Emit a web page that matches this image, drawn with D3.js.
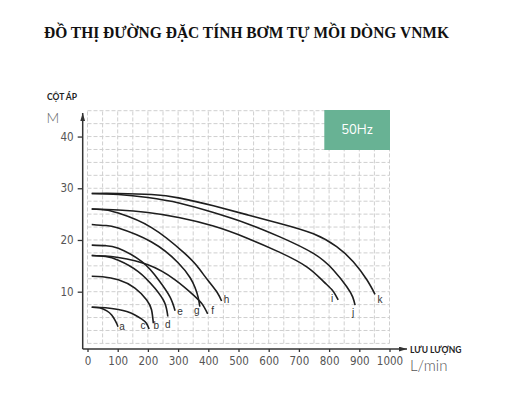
<!DOCTYPE html>
<html><head><meta charset="utf-8">
<script src="https://cdn.jsdelivr.net/npm/d3@7"></script>
<style>body{margin:0;background:#fff}svg{display:block}</style>
</head><body>
<svg id="c" width="505" height="400"></svg>
<script>
// ---- data ----
const curveNames = ["a","b","c","d","e","f","g","h","i","j","k"];
const curveA = [[14,7],[40,6.9],[64,6.3],[80,5.5],[90,4.6],[97,3.8],[101,3.2]];
const curveB = [[14,13],[50,12.9],[102,12.3],[157,10.7],[196,8.4],[212,6.5],[218,3.9]];
const curveC = [[14,7],[60,6.9],[102,6.55],[130,6.15],[157,5.5],[180,4.7],[195,3.9],[204,2.8]];
const curveD = [[14,17],[60,16.8],[102,16.1],[168,13.9],[224,10.6],[256,7.8],[266,5.2]];
const curveE = [[14,19],[60,18.9],[102,18.4],[180,15.8],[235,12.3],[273,9.0],[290,6.3]];
const curveF = [[14,17],[60,16.9],[102,16.6],[200,15.2],[290,12.3],[350,9.4],[380,7.6],[398,5.7]];
const curveG = [[14,23],[60,22.8],[102,22.3],[212,19.6],[300,15.6],[340,12.7],[356,10.8],[366,9.0],[372,7.1]];
const curveH = [[14,26],[60,25.8],[102,25.2],[212,22.4],[320,17.5],[362,15.0],[400,12.1],[430,9.8],[444,8.2]];
const curveI = [[14,26],[102,25.8],[200,25.3],[306,24.3],[417,22.7],[527,20.4],[637,17.6],[726,14.8],[781,12.0],[812,10.2],[830,8.4]];
const curveJ = [[14,29],[102,28.8],[200,28.2],[306,27.1],[417,25.3],[527,23.2],[637,20.6],[748,17.4],[814,14.2],[858,11.0],[878,9.0],[886,7.4]];
const curveK = [[14,29],[102,29],[212,28.8],[306,28.1],[417,26.6],[527,24.9],[637,23.2],[748,21.2],[825,18.7],[880,15.8],[925,12.3],[952,9.5]];
const curveData = [curveA,curveB,curveC,curveD,curveE,curveF,curveG,curveH,curveI,curveJ,curveK];
const xTicks = [0,100,200,300,400,500,600,700,800,900,1000];
const yTicks = [10,20,30,40];
const titleText = "ĐỒ THỊ ĐƯỜNG ĐẶC TÍNH BƠM TỰ MỒI DÒNG VNMK";
const yTitle = "CỘT ÁP", yUnit = "M", xTitle = "LƯU LƯỢNG", xUnit = "L/min", badge = "50Hz";

// ---- layout ----
const labelOffsets = {a:[4,0],b:[3,2],c:[-6,-3],d:[0,8],e:[5,1],f:[5,-3],g:[-3,4],h:[5,-1],i:[-6,-1],j:[-2,7],k:[5,5]};
const svg = d3.select("#c");
const x = d3.scaleLinear().domain([0,1000]).range([87.5,389.5]);
const y = d3.scaleLinear().domain([0,45]).range([343.4,110.7]);
const axisX = 82.7, axisY = 349;
const numFont = "'Liberation Sans Narrow','Arial Narrow','DejaVu Sans Condensed',sans-serif";

// title
svg.append("text").attr("x",44).attr("y",38).attr("font-family","'Liberation Serif','Times New Roman',serif")
  .attr("font-weight","bold").attr("font-size",16).attr("fill","#111").attr("textLength",405).attr("lengthAdjust","spacingAndGlyphs").text(titleText);

// grid
const g = svg.append("g");
const gx = d3.range(0,1000.1,50), gy = d3.range(0,45.1,2.5);
g.selectAll("line.vx").data(gx).join("line").attr("x1",d=>x(d)).attr("x2",d=>x(d)).attr("y1",y(0)).attr("y2",y(45))
  .attr("stroke","#cfcfcf").attr("stroke-width",1).attr("stroke-dasharray","4,2");
g.selectAll("line.hy").data(gy).join("line").attr("y1",d=>y(d)).attr("y2",d=>y(d)).attr("x1",x(0)).attr("x2",x(1000))
  .attr("stroke","#cfcfcf").attr("stroke-width",1).attr("stroke-dasharray","4,2");

// badge
svg.append("rect").attr("x",324.3).attr("y",y(45)-0.7).attr("width",x(1000)-324.3+0.5).attr("height",40).attr("fill","#68b294");
svg.append("text").attr("x",357).attr("y",130).attr("text-anchor","middle").attr("dominant-baseline","central")
  .attr("font-family","Nunito,'Open Sans',sans-serif").attr("font-size",13).attr("fill","#fff").text(badge);

// axes
const axColor = "#333";
const defs = svg.append("defs");
defs.append("marker").attr("id","arr").attr("viewBox","0 0 10 6").attr("refX",10).attr("refY",3)
  .attr("markerWidth",8).attr("markerHeight",5).attr("markerUnits","userSpaceOnUse").attr("orient","auto")
  .append("path").attr("d","M0,0L10,3L0,6Z").attr("fill",axColor);
svg.append("line").attr("x1",axisX).attr("y1",axisY).attr("x2",axisX).attr("y2",113).attr("stroke",axColor).attr("stroke-width",1.5).attr("marker-end","url(#arr)");
svg.append("line").attr("x1",axisX).attr("y1",axisY).attr("x2",407).attr("y2",axisY).attr("stroke",axColor).attr("stroke-width",1.5).attr("marker-end","url(#arr)");

const ya = svg.append("g").attr("transform",`translate(${axisX},0)`).call(d3.axisLeft(y).tickValues(yTicks).tickSize(5).tickPadding(4).tickFormat(d3.format("d")));
ya.select(".domain").remove();
ya.selectAll("line").attr("stroke",axColor).attr("stroke-width",1.3);
ya.selectAll("text").attr("font-family",numFont).attr("font-size",11.5).attr("fill","#555");

const xa = svg.append("g").attr("transform",`translate(0,${axisY})`).call(d3.axisBottom(x).tickValues(xTicks).tickSize(3).tickPadding(5).tickFormat(d3.format("d")));
xa.select(".domain").remove();
xa.selectAll("line").attr("stroke",axColor).attr("stroke-width",1.3);
xa.selectAll("text").attr("font-family",numFont).attr("font-size",11.5).attr("fill","#555");

// axis titles
const boldFont = "Lato,'Liberation Sans',sans-serif";
svg.append("text").attr("x",47).attr("y",100).attr("font-family",boldFont).attr("font-weight","bold").attr("font-size",8.5).attr("fill","#222").text(yTitle);
svg.append("text").attr("x",46.5).attr("y",123).attr("font-family",boldFont).attr("font-weight",300).attr("font-size",14).attr("fill","#666").text(yUnit);
svg.append("text").attr("x",410).attr("y",352.5).attr("font-family",boldFont).attr("font-weight","bold").attr("font-size",8.5).attr("fill","#222").text(xTitle);
svg.append("text").attr("x",410).attr("y",371).attr("font-family",boldFont).attr("font-weight",300).attr("font-size",15).attr("fill","#555").text(xUnit);

// curves
const line = d3.line().x(d=>x(d[0])).y(d=>y(d[1])).curve(d3.curveNatural);
svg.append("g").selectAll("path").data(curveData).join("path").attr("d",line)
  .attr("fill","none").attr("stroke","#1e1e1e").attr("stroke-width",1.6);
svg.append("g").selectAll("text").data(curveData).join("text")
  .attr("x",(d,i)=>x(d[d.length-1][0])+labelOffsets[curveNames[i]][0])
  .attr("y",(d,i)=>y(d[d.length-1][1])+labelOffsets[curveNames[i]][1])
  .attr("text-anchor","middle").attr("dominant-baseline","central")
  .attr("font-family","'Liberation Sans',Arial,sans-serif").attr("font-size",10).attr("fill","#333")
  .text((d,i)=>curveNames[i]);
</script>
</body></html>
